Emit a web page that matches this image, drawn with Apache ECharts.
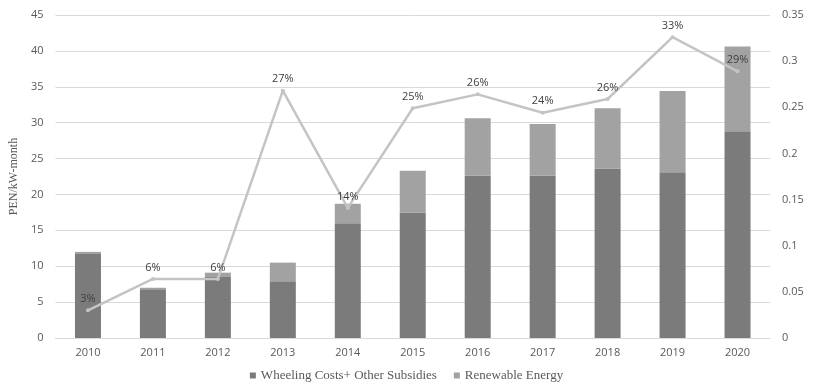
<!DOCTYPE html>
<html>
<head>
<meta charset="utf-8">
<script src="https://cdn.jsdelivr.net/npm/echarts@6/dist/echarts.min.js"></script>
<style>
  html, body { margin: 0; padding: 0; background: #fff; }
  #chart { width: 813px; height: 388px; }
</style>
</head>
<body>
<div id="chart"></div>
<script>
var years = ['2010', '2011', '2012', '2013', '2014', '2015', '2016', '2017', '2018', '2019', '2020'];
var wheeling = [11.7, 6.8, 8.5, 7.9, 16.0, 17.5, 22.6, 22.6, 23.6, 23.1, 28.8];
var renewable = [0.3, 0.2, 0.6, 2.6, 2.7, 5.8, 8.0, 7.2, 8.4, 11.3, 11.8];
var share = [0.030, 0.064, 0.064, 0.268, 0.141, 0.249, 0.264, 0.244, 0.259, 0.326, 0.289];

var chart = echarts.init(document.getElementById('chart'));
var tickFont = { color: '#595959', fontFamily: 'Open Sans', fontSize: 11 };

chart.setOption({
    animation: false,
    grid: { left: 48, right: 43, top: 15, bottom: 50 },
    legend: {
        bottom: 1,
        left: 'center',
        itemWidth: 6,
        itemHeight: 6,
        itemGap: 17,
        icon: 'rect',
        textStyle: { color: '#595959', fontFamily: 'Liberation Serif', fontSize: 13 },
        data: ['Wheeling Costs+ Other Subsidies', 'Renewable Energy']
    },
    xAxis: {
        type: 'category',
        data: years,
        axisLine: { lineStyle: { color: '#d9d9d9' } },
        axisTick: { show: false },
        axisLabel: Object.assign({ margin: 9 }, tickFont)
    },
    yAxis: [
        {
            type: 'value',
            min: 0,
            max: 45,
            interval: 5,
            name: 'PEN/kW-month',
            nameLocation: 'middle',
            nameGap: 33,
            nameTextStyle: { color: '#595959', fontFamily: 'Liberation Serif', fontSize: 12 },
            axisLine: { show: false },
            axisTick: { show: false },
            axisLabel: Object.assign({ margin: 12 }, tickFont),
            splitLine: { lineStyle: { color: '#d9d9d9' } }
        },
        {
            type: 'value',
            min: 0,
            max: 0.35,
            interval: 0.05,
            axisLine: { show: false },
            axisTick: { show: false },
            axisLabel: Object.assign({ margin: 12 }, tickFont),
            splitLine: { show: false }
        }
    ],
    series: [
        {
            name: 'Wheeling Costs+ Other Subsidies',
            type: 'bar',
            stack: 'total',
            barWidth: 26,
            itemStyle: { color: '#7b7b7b' },
            data: wheeling
        },
        {
            name: 'Renewable Energy',
            type: 'bar',
            stack: 'total',
            barWidth: 26,
            itemStyle: { color: '#a2a2a2' },
            data: renewable
        },
        {
            name: 'share',
            type: 'line',
            yAxisIndex: 1,
            symbol: 'circle',
            symbolSize: 4,
            lineStyle: { color: '#c4c4c4', width: 2.5 },
            itemStyle: { color: '#c4c4c4' },
            label: {
                show: true,
                position: 'top',
                distance: 4,
                color: '#404040',
                fontFamily: 'Open Sans',
                fontSize: 11,
                formatter: function (p) { return Math.round(p.value * 100) + '%'; }
            },
            data: share
        }
    ]
});
</script>
</body>
</html>
